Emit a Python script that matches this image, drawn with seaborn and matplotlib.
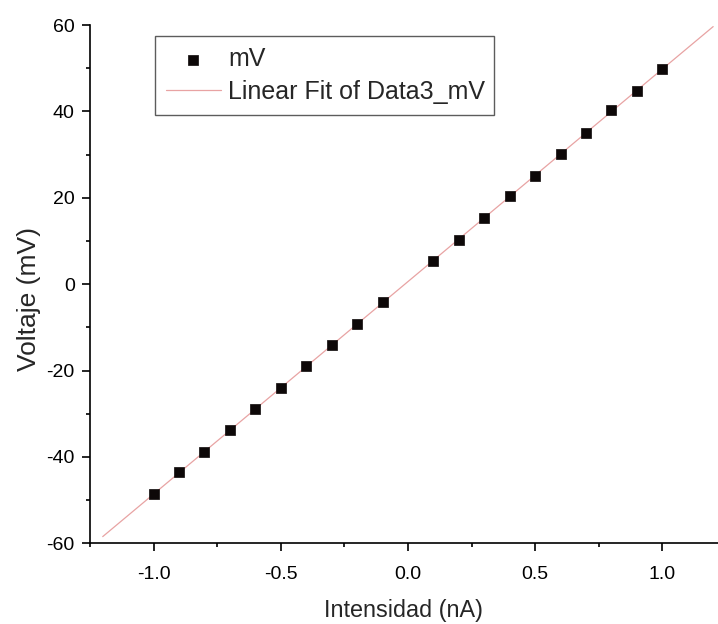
import numpy as np
import pandas as pd
import matplotlib
matplotlib.use("Agg")
import matplotlib.pyplot as plt
import seaborn as sns
from matplotlib.ticker import MultipleLocator

# Data
intensity_nA = [-1.0, -0.9, -0.8, -0.7, -0.6, -0.5, -0.4, -0.3, -0.2, -0.1,
                0.1, 0.2, 0.3, 0.4, 0.5, 0.6, 0.7, 0.8, 0.9, 1.0]
voltage_mV = [-48.7, -43.5, -38.9, -33.8, -28.9, -24.1, -18.9, -14.1, -9.3, -4.2,
              5.3, 10.3, 15.3, 20.3, 25.0, 30.1, 34.9, 40.3, 44.8, 49.9]
fit_range = [-1.2, 1.2]
x_label = "Intensidad (nA)"
y_label = "Voltaje (mV)"
series_label = "mV"
fit_label = "Linear Fit of Data3_mV"

sns.set_style("ticks")
plt.rcParams["font.family"] = ["Liberation Sans", "DejaVu Sans"]

df = pd.DataFrame({"x": intensity_nA, "y": voltage_mV})
slope, intercept = np.polyfit(df["x"], df["y"], 1)
fit_x = np.linspace(fit_range[0], fit_range[1], 50)
fit_df = pd.DataFrame({"x": fit_x, "y": slope * fit_x + intercept})

fig = plt.figure(figsize=(7.18, 6.24), dpi=100)
ax = fig.add_axes([90 / 718, 80.7 / 624, 628 / 718, (543.3 - 25) / 624])

sns.lineplot(data=fit_df, x="x", y="y", ax=ax, color="#e8a3a3", linewidth=0.9,
             label=fit_label, zorder=2)
sns.scatterplot(data=df, x="x", y="y", ax=ax, marker="s", s=60, color="#0d0808",
                edgecolor="#0d0808", linewidth=0.5, label=series_label, zorder=3)

ax.set_xlim(-1.25, 1.219)
ax.set_ylim(-60, 60)
ax.xaxis.set_major_locator(MultipleLocator(0.5))
ax.xaxis.set_minor_locator(MultipleLocator(0.25))
ax.yaxis.set_major_locator(MultipleLocator(20))
ax.yaxis.set_minor_locator(MultipleLocator(10))
ax.xaxis.set_major_formatter(matplotlib.ticker.FormatStrFormatter("%.1f"))
ax.yaxis.set_major_formatter(matplotlib.ticker.FormatStrFormatter("%d"))

for s in ["top", "right"]:
    ax.spines[s].set_visible(False)
for s in ["left", "bottom"]:
    ax.spines[s].set_linewidth(1.2)
    ax.spines[s].set_color("black")

ax.tick_params(which="major", direction="out", length=6, width=1.2,
               labelsize=14, colors="black", pad=5)
ax.tick_params(which="minor", direction="out", length=3.2, width=1.2, colors="black")
ax.tick_params(axis="x", which="major", pad=10)

ax.set_xlabel(x_label, fontsize=16.8, labelpad=12)
ax.set_ylabel(y_label, fontsize=19, labelpad=4)
ax.yaxis.label.set_y(0.4716)

handles, labels = ax.get_legend_handles_labels()
order = [labels.index(series_label), labels.index(fit_label)]
leg = ax.legend([handles[i] for i in order], [labels[i] for i in order],
                loc="upper left",
                bbox_to_anchor=(154.7 / 718, 1 - 114 / 624, (494 - 154.7) / 718, (114 - 36) / 624),
                bbox_transform=fig.transFigure, mode="expand", borderaxespad=0,
                fontsize=18, frameon=True, fancybox=False, edgecolor="#333333",
                handlelength=2.2, handletextpad=0.3, borderpad=0.45,
                labelspacing=0.35, markerscale=1.0)
leg.get_frame().set_linewidth(1.0)

fig.savefig("out.png", dpi=100)
